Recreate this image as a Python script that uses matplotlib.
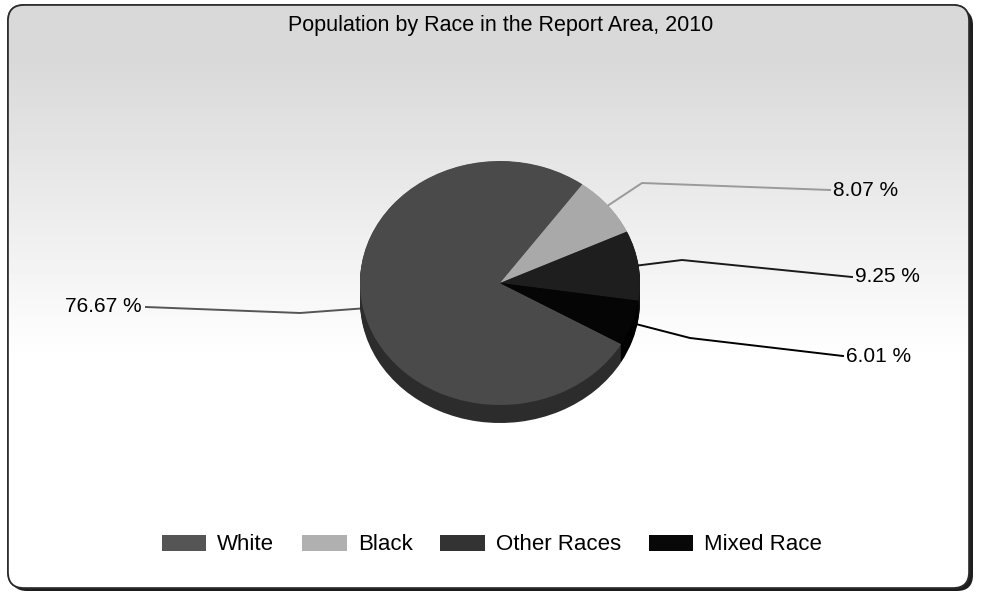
import numpy as np
import matplotlib
matplotlib.use('Agg')
import matplotlib.pyplot as plt
from matplotlib.patches import FancyBboxPatch, Patch

plt.rcParams['font.family'] = ['Liberation Sans', 'DejaVu Sans']

# ---- data ----
categories = ['White', 'Black', 'Other Races', 'Mixed Race']
shares = [76.67, 8.07, 9.25, 6.01]
label_texts = ['76.67 %', '8.07 %', '9.25 %', '6.01 %']
title = 'Population by Race in the Report Area, 2010'

# ---- style ----
top_colors = ['#4a4a4a', '#a9a9a9', '#1e1e1e', '#050505']
side_colors = ['#2c2c2c', '#737373', '#121212', '#000000']
line_colors = ['#555555', '#9a9a9a', '#1a1a1a', '#000000']
legend_colors = ['#555555', '#b0b0b0', '#333333', '#080808']

W, H = 981, 597
fig = plt.figure(figsize=(W / 100, H / 100), dpi=100)
bg = fig.add_axes([0, 0, 1, 1])
bg.set_xlim(0, W)
bg.set_ylim(H, 0)
bg.axis('off')

# frame with shadow
shadow = FancyBboxPatch((11, 9), W - 19, H - 15,
                        boxstyle='round,pad=0,rounding_size=16',
                        fc='#1e1e1e', ec='none', zorder=1)
bg.add_patch(shadow)
frame = FancyBboxPatch((8, 5), W - 20, H - 14,
                       boxstyle='round,pad=0,rounding_size=16',
                       fc='white', ec='#2a2a2a', lw=1.2, zorder=2)
bg.add_patch(frame)
yy = np.arange(H)
v = 0.85 + 0.15 * np.clip((yy - 60) / 300.0, 0, 1)
grad = np.repeat(v[:, None], W, axis=1)
im = bg.imshow(grad, cmap='gray', vmin=0, vmax=1, extent=(0, W, H, 0),
               aspect='auto', zorder=3, interpolation='bilinear')
im.set_clip_path(frame)
frame2 = FancyBboxPatch((8, 5), W - 20, H - 14,
                        boxstyle='round,pad=0,rounding_size=16',
                        fc='none', ec='#2a2a2a', lw=1.2, zorder=4)
bg.add_patch(frame2)

bg.text(501, 25, title, ha='center', va='center', fontsize=15.5, zorder=5)

# ---- 3D-ish pie ----
cx, cy, rx, ry, depth = 500, 283, 140, 122, 18
pax = fig.add_axes([(cx - rx) / W, 1 - (cy + ry + depth) / H,
                    2 * rx / W, (2 * ry + depth) / H])
dz = depth / ry
start = -30
for k in np.linspace(dz, 0.004, 14):
    pax.pie(shares, colors=side_colors, startangle=start, counterclock=False,
            center=(0, -k), radius=1, wedgeprops=dict(linewidth=0))
pax.pie(shares, colors=top_colors, startangle=start, counterclock=False,
        center=(0, 0), radius=1, wedgeprops=dict(linewidth=0))
pax.set_aspect('auto')
pax.set_xlim(-1, 1)
pax.set_ylim(-1 - dz, 1)
pax.axis('off')

# ---- leader lines and labels ----
cum = np.concatenate([[0], np.cumsum(shares)])
mids = [start - 3.6 * (cum[i] + shares[i] / 2) for i in range(len(shares))]
elbows = [(300, 313), (642, 183), (682, 260), (690, 338)]
ends = [(146, 307), (830, 190), (852, 277), (843, 356)]
for i, m in enumerate(mids):
    ax0 = cx + rx * np.cos(np.radians(m))
    ay0 = cy - ry * np.sin(np.radians(m))
    ex, ey = elbows[i]
    lx, ly = ends[i]
    bg.plot([ax0, ex, lx], [ay0, ey, ly], color=line_colors[i], lw=1.4, zorder=5)
    if lx < cx:
        bg.text(lx - 4, ly, label_texts[i], ha='right', va='center', fontsize=15, zorder=6)
    else:
        bg.text(lx + 3, ly, label_texts[i], ha='left', va='center', fontsize=15, zorder=6)

# ---- legend ----
handles = [Patch(facecolor=c, edgecolor='none') for c in legend_colors]
fig.legend(handles, categories, loc='center', bbox_to_anchor=(492 / W, 1 - 545 / H),
           ncol=4, frameon=False, fontsize=16, handlelength=2.0, handleheight=0.75,
           handletextpad=0.5, columnspacing=1.25)

fig.savefig('out.png', dpi=100)
